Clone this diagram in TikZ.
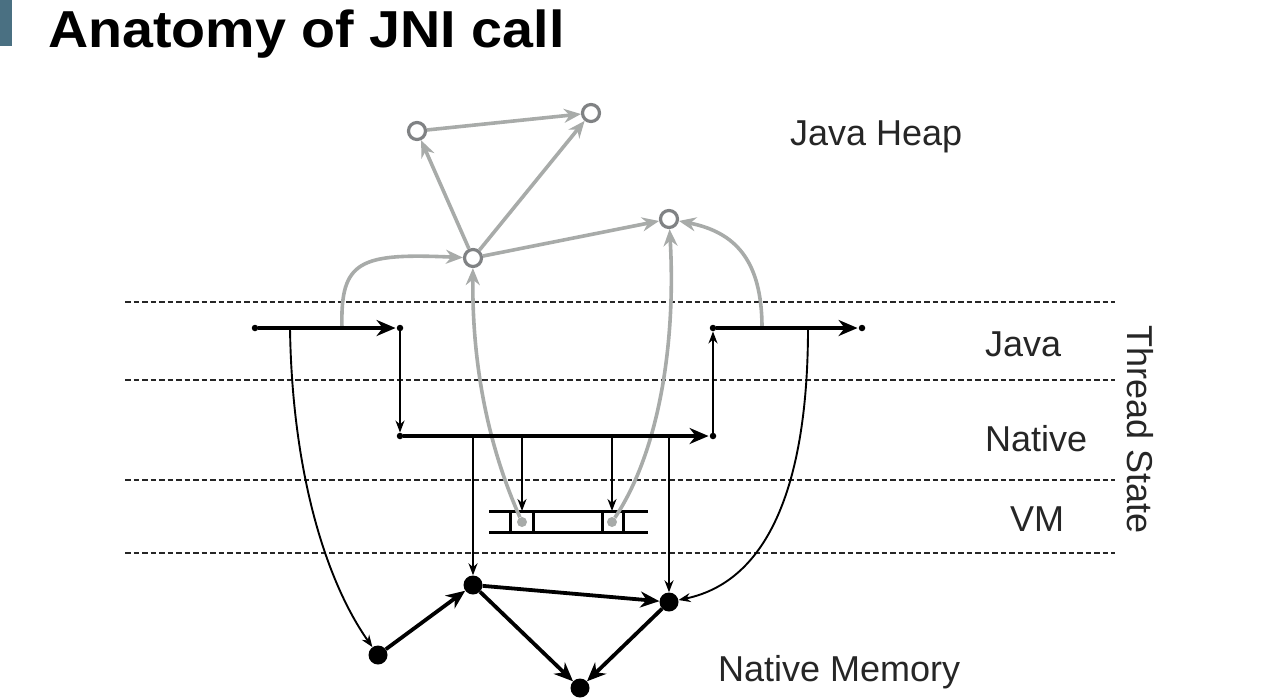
\documentclass[tikz,border=0pt]{standalone}
\usepackage{fontspec}
\setmainfont{Liberation Sans}
\usetikzlibrary{arrows.meta}
\definecolor{hg}{RGB}{168,171,169}
\definecolor{hc}{RGB}{128,130,132}
\definecolor{barc}{RGB}{74,112,130}
\definecolor{lbl}{RGB}{38,38,38}
\begin{document}
\begin{tikzpicture}[x=1pt,y=-1pt,
 sep/.style={line width=2.6pt,dash pattern=on 5.5pt off 3pt,black!85},
 heap/.style={circle,draw=hc,line width=3.2pt,fill=white,minimum size=17pt,inner sep=0pt},
 mem/.style={circle,fill=black,minimum size=19pt,inner sep=0pt},
 pt/.style={circle,fill=black,minimum size=6.5pt,inner sep=0pt},
 gdot/.style={circle,fill=hg,minimum size=10pt,inner sep=0pt},
 garr/.style={hg,line width=3.6pt,-{Stealth[length=17pt,width=14pt]}},
 barr/.style={black,line width=3.8pt,-{Stealth[length=19pt,width=16pt]}},
 tarr/.style={black,line width=1.9pt,-{Stealth[length=12pt,width=9pt]}},
 vm/.style={black,line width=3pt},
 lab/.style={font=\fontsize{36}{40}\selectfont,text=lbl,inner sep=0pt},
]
\useasboundingbox (0,0) rectangle (1276,697);
\fill[barc] (0,0) rectangle (12,46);
\node[anchor=base west,inner sep=0pt,font=\fontsize{52}{56}\selectfont\bfseries,xscale=1.07] (title) at (48,47) {Anatomy of JNI call};

% separators
\draw[sep] (125,302) -- (1115,302);
\draw[sep] (125,380) -- (1115,380);
\draw[sep] (125,480) -- (1115,480);
\draw[sep] (125,553) -- (1115,553);

% labels
\node[lab,anchor=base west] (lheap) at (790,145) {Java Heap};
\node[lab,anchor=base west] (ljava) at (985,356) {Java};
\node[lab,anchor=base west] (lnat) at (985,451) {Native};
\node[lab,anchor=base west] (lvm) at (1010,531) {VM};
\node[lab,anchor=base west] (lmem) at (718,681) {Native Memory};
\node[lab,anchor=base west,rotate=-90] (lts) at (1127,325) {Thread State};

% heap nodes
\node[heap] (A) at (417,131) {};
\node[heap] (B) at (591,113) {};
\node[heap] (C) at (473,258) {};
\node[heap] (D) at (669,219) {};

% VM structure
\draw[vm] (489,511) -- (648,511);
\draw[vm] (489,532) -- (648,532);
\draw[vm] (510,511) -- (510,532);
\draw[vm] (533,511) -- (533,532);
\draw[vm] (602,511) -- (602,532);
\draw[vm] (623,511) -- (623,532);
\node[gdot] (s1) at (522,522) {};
\node[gdot] (s2) at (612,522) {};
\coordinate (s1t) at (522,511);
\coordinate (s2t) at (612,511);

% thread path points
\node[pt] (j1) at (255,328) {};
\node[pt] (j2) at (400,328) {};
\node[pt] (n1) at (400,436) {};
\node[pt] (n2) at (713,436) {};
\node[pt] (j3) at (713,328) {};
\node[pt] (j4) at (862,328) {};
\coordinate (jl) at (290,328);
\coordinate (jg1) at (342,328);
\coordinate (jg2) at (762,328);
\coordinate (jr) at (808,328);
\coordinate (d1) at (473,436);
\coordinate (d2) at (522,436);
\coordinate (d3) at (612,436);
\coordinate (d4) at (669,436);

% memory nodes
\node[mem] (M1) at (378,655) {};
\node[mem] (M2) at (473,585) {};
\node[mem] (M3) at (669,602) {};
\node[mem] (M4) at (580,688) {};

% gray heap edges
\draw[garr] (A) -- (B);
\draw[garr] (C) -- (A);
\draw[garr] (C) -- (B);
\draw[garr] (C) -- (D);
\draw[garr] (jg1) .. controls (340,260) and (360,253) .. (C);
\draw[garr] (jg2) .. controls (762,260) and (735,232) .. (D);
\draw[garr] (s1) .. controls (490,450) and (472,370) .. (C);
\draw[garr] (s2) .. controls (660,450) and (676,340) .. (D);

% black thread path
\draw[barr,shorten >=1pt] (j1) -- (j2);
\draw[tarr] (j2) -- (n1);
\draw[barr,shorten >=1pt] (n1) -- (n2);
\draw[tarr] (n2) -- (j3);
\draw[barr,shorten >=1pt] (j3) -- (j4);

% drops
\draw[tarr] (d1) -- (M2);
\draw[tarr] (d2) -- (s1t);
\draw[tarr] (d3) -- (s2t);
\draw[tarr] (d4) -- (M3);
\draw[tarr] (jl) .. controls (292,470) and (325,580) .. (M1);
\draw[tarr] (jr) .. controls (808,470) and (775,580) .. (M3);

% memory edges
\draw[barr] (M1) -- (M2);
\draw[barr] (M2) -- (M3);
\draw[barr] (M2) -- (M4);
\draw[barr] (M3) -- (M4);
\end{tikzpicture}
\end{document}
